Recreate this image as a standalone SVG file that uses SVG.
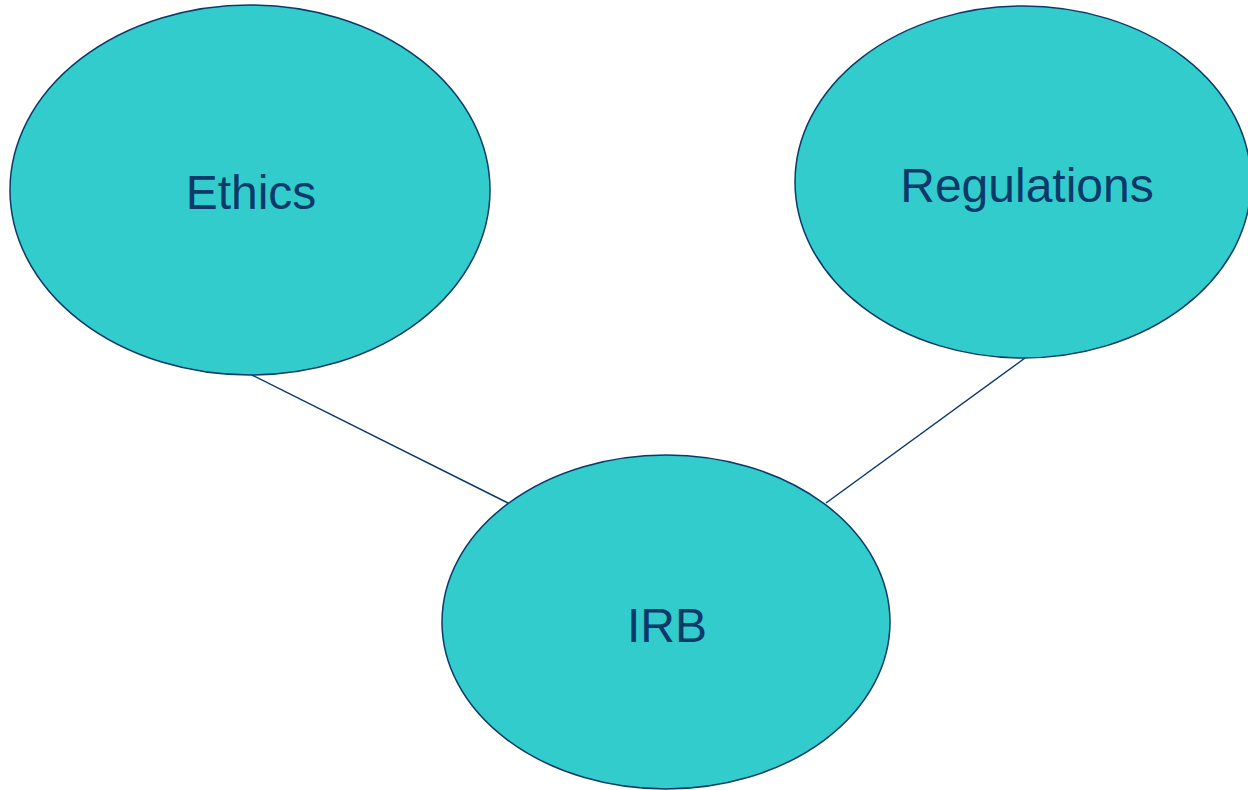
<svg xmlns="http://www.w3.org/2000/svg" width="1248" height="790" viewBox="0 0 1248 790">
<style>
.node ellipse{fill:#33CCCC;stroke:#0B3A6A;stroke-width:1.5}
.node text{font-family:"Liberation Sans",Arial,sans-serif;font-size:48px;fill:#0B3A6A;text-anchor:middle}
.edge{stroke:#0B3A6A;stroke-width:1.5;fill:none}
</style>
<rect width="1248" height="790" fill="#FFFFFF"/>
<g id="connectors">
<line class="edge" x1="252" y1="375" x2="508" y2="503"/>
<line class="edge" x1="1025" y1="358" x2="826" y2="503"/>
</g>
<g id="ethics" class="node">
<ellipse cx="250" cy="190" rx="240" ry="185"/>
<text x="251" y="209">Ethics</text>
</g>
<g id="regulations" class="node">
<ellipse cx="1023" cy="182" rx="228" ry="176"/>
<text x="1027" y="202">Regulations</text>
</g>
<g id="irb" class="node">
<ellipse cx="666" cy="622" rx="224" ry="167"/>
<text x="667" y="642">IRB</text>
</g>
</svg>
